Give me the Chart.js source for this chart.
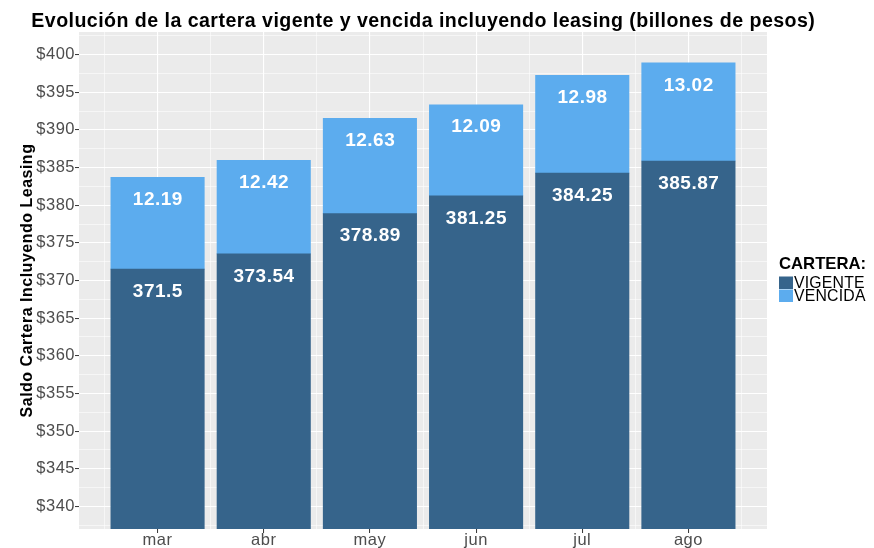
<!DOCTYPE html>
<html><head><meta charset="utf-8">
<script src="https://cdn.jsdelivr.net/npm/chart.js@4"></script>
<style>html,body{margin:0;padding:0;background:#fff}canvas{display:block}</style>
</head><body>
<canvas id="c" width="874" height="548"></canvas>
<script>
const months = ['mar', 'abr', 'may', 'jun', 'jul', 'ago'];
const vigente = [371.5, 373.54, 378.89, 381.25, 384.25, 385.87];
const vencida = [12.19, 12.42, 12.63, 12.09, 12.98, 13.02];
const seriesNames = ['VIGENTE', 'VENCIDA'];
const yTickLabels = [340, 345, 350, 355, 360, 365, 370, 375, 380, 385, 390, 395, 400];
const chartTitle = 'Evolución de la cartera vigente y vencida incluyendo leasing (billones de pesos)';
const yTitle = 'Saldo Cartera Incluyendo Leasing';
const legendTitle = 'CARTERA:';

const colors = ['#36648B', '#5CACEE'];
const FONT = "'Liberation Sans', Arial, Helvetica, sans-serif";
const seriesValues = [vigente, vencida];

const panelBg = {
  id: 'panelBg',
  beforeDraw(chart) {
    const { ctx, chartArea: a } = chart;
    ctx.save();
    ctx.fillStyle = '#EBEBEB';
    ctx.fillRect(a.left, a.top, a.right - a.left, a.bottom - a.top);
    ctx.restore();
    ctx.letterSpacing = '0.5px';
  }
};

const barLabels = {
  id: 'barLabels',
  afterDatasetsDraw(chart) {
    const ctx = chart.ctx;
    ctx.save();
    ctx.font = `bold 19px ${FONT}`;
    ctx.letterSpacing = '0.5px';
    ctx.fillStyle = '#FFFFFF';
    ctx.textAlign = 'center';
    ctx.textBaseline = 'middle';
    chart.data.datasets.forEach((ds, i) => {
      chart.getDatasetMeta(i).data.forEach((bar, j) => {
        ctx.fillText(String(seriesValues[i][j]), bar.x + 0.3, bar.y + 22.5);
      });
    });
    ctx.restore();
  }
};

const titlePlugin = {
  id: 'titlePlugin',
  afterDraw(chart) {
    const { ctx, chartArea: a } = chart;
    ctx.save();
    ctx.font = `bold 19.6px ${FONT}`;
    ctx.letterSpacing = '0.45px';
    ctx.fillStyle = '#000000';
    ctx.textAlign = 'center';
    ctx.textBaseline = 'alphabetic';
    ctx.fillText(chartTitle, (a.left + a.right) / 2 + 0.3, 27);
    ctx.restore();
  }
};

const legendPlugin = {
  id: 'legendPlugin',
  afterDraw(chart) {
    const ctx = chart.ctx;
    const x0 = 779;
    ctx.save();
    ctx.letterSpacing = '0px';
    ctx.fillStyle = '#000000';
    ctx.textAlign = 'left';
    ctx.textBaseline = 'alphabetic';
    ctx.font = `bold 16.7px ${FONT}`;
    ctx.fillText(legendTitle, x0, 269.3);
    ctx.font = `15.8px ${FONT}`;
    ctx.letterSpacing = '0.2px';
    const rows = [276.5, 289.5];
    chart.data.datasets.forEach((ds, i) => {
      ctx.fillStyle = ds.backgroundColor;
      ctx.fillRect(x0, rows[i], 14, 12.5);
      ctx.fillStyle = '#000000';
      ctx.fillText(ds.label, 794, rows[i] + 11);
    });
    ctx.restore();
  }
};

const isMajorY = v => Math.abs(v % 5) < 1e-9;
const isMajorX = v => Number.isInteger(v);

new Chart(document.getElementById('c'), {
  type: 'bar',
  data: {
    datasets: seriesNames.map((name, i) => ({
      label: name,
      data: months.map((m, j) => ({ x: j, y: seriesValues[i][j] })),
      backgroundColor: colors[i],
      borderWidth: 0,
      barThickness: 'flex',
      barPercentage: 0.88,
      categoryPercentage: 1,
      clip: 0
    }))
  },
  options: {
    responsive: false,
    animation: false,
    devicePixelRatio: 1,
    layout: { padding: { top: 32, right: 107, bottom: 0, left: 0 } },
    plugins: { legend: { display: false }, tooltip: { enabled: false }, title: { display: false } },
    scales: {
      x: {
        type: 'linear',
        stacked: true,
        min: -0.74,
        max: 5.74,
        offset: false,
        afterBuildTicks(s) {
          const t = [];
          for (let k = -1; k <= 2 * months.length - 1; k++) t.push({ value: k / 2 });
          s.ticks = t;
        },
        afterFit(s) { s.height = 19; },
        border: { display: false },
        grid: {
          offset: false,
          color: '#FFFFFF',
          lineWidth: c => (c.tick && !isMajorX(c.tick.value)) ? 0.55 : 1.1,
          tickColor: c => (c.tick && isMajorX(c.tick.value)) ? '#333333' : 'rgba(0,0,0,0)',
          tickLength: 4,
          tickWidth: 1
        },
        ticks: {
          autoSkip: false,
          maxRotation: 0,
          minRotation: 0,
          padding: -2,
          color: '#4D4D4D',
          font: { family: FONT, size: 16.5 },
          callback: v => isMajorX(v) ? months[v] : ''
        }
      },
      y: {
        type: 'linear',
        stacked: true,
        min: 337,
        max: 403,
        afterBuildTicks(s) {
          const t = [];
          const first = yTickLabels[0], last = yTickLabels[yTickLabels.length - 1];
          for (let v = first - 2.5; v <= last + 2.5; v += 2.5) t.push({ value: v });
          s.ticks = t;
        },
        afterFit(s) { s.width = 79; },
        border: { display: false },
        grid: {
          color: '#FFFFFF',
          lineWidth: c => (c.tick && !isMajorY(c.tick.value)) ? 0.55 : 1.1,
          tickColor: c => (c.tick && isMajorY(c.tick.value)) ? '#333333' : 'rgba(0,0,0,0)',
          tickLength: 4,
          tickWidth: 1
        },
        ticks: {
          autoSkip: false,
          padding: 0,
          color: '#4D4D4D',
          font: { family: FONT, size: 16.5 },
          callback: v => yTickLabels.includes(v) ? '$' + v : ''
        },
        title: {
          display: true,
          text: yTitle,
          color: '#000000',
          font: { family: FONT, size: 16, weight: 'bold' },
          padding: { top: 18, bottom: 0 }
        }
      }
    }
  },
  plugins: [panelBg, barLabels, titlePlugin, legendPlugin]
});
</script>
</body></html>
